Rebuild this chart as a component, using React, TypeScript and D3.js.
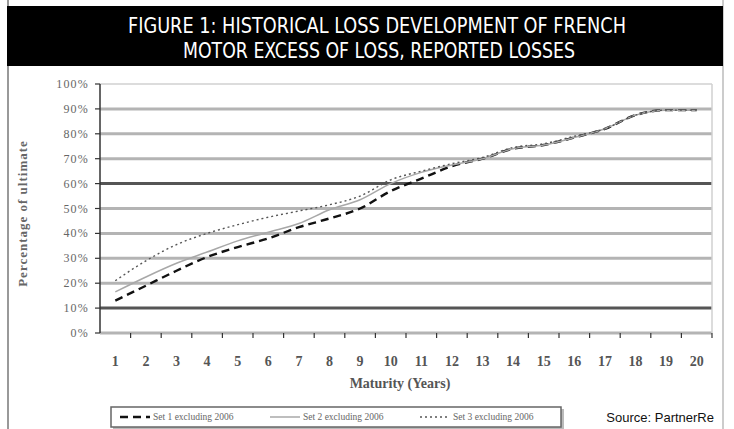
import * as d3 from "d3";
import * as React from "react";

const maturities = ["1", "2", "3", "4", "5", "6", "7", "8", "9", "10", "11", "12", "13", "14", "15", "16", "17", "18", "19", "20"];
const set1 = [13, 19, 25, 30.5, 34.5, 38, 42.5, 46, 50, 57, 62, 67, 70, 74, 75.5, 78.5, 82, 87.5, 89.5, 89.5];
const set2 = [16.5, 22.5, 28, 32.5, 37, 40.5, 44, 49.5, 53.5, 60, 64.5, 67.5, 70, 74, 75.5, 78.5, 82, 87.5, 89.5, 89.5];
const set3 = [21, 29, 35.5, 40, 43.5, 46.5, 49, 51.5, 55, 61.5, 65, 68, 70.5, 74.5, 76, 79, 82, 87.5, 89.5, 89.5];
const seriesNames = ["Set 1 excluding 2006", "Set 2 excluding 2006", "Set 3 excluding 2006"];
const yTicks = [0, 10, 20, 30, 40, 50, 60, 70, 80, 90, 100];
const darkGrid = [10, 60];

const styles = [
  { stroke: "#111", width: 2.4, dash: "8,5" },
  { stroke: "#a8a8a8", width: 1.5, dash: "" },
  { stroke: "#555", width: 1.4, dash: "2,3" },
];

export default function App() {
  const width = 734;
  const height = 429;
  const left = 100;
  const right = 712;
  const top = 84;
  const bottom = 333;

  const x = d3.scaleBand<string>().domain(maturities).range([left, right]).padding(0);
  const y = d3.scaleLinear().domain([0, 100]).range([bottom, top]);
  const cx = (d: string) => (x(d) ?? 0) + x.bandwidth() / 2;

  const line = d3
    .line<number>()
    .x((_, i) => cx(maturities[i]))
    .y((d) => y(d))
    .curve(d3.curveMonotoneX);

  const allSeries = [set1, set2, set3];
  const serif = "'Liberation Serif', 'DejaVu Serif', serif";
  const titleFont = "'DejaVu Sans Condensed', 'Liberation Sans Narrow', 'Open Sans', sans-serif";

  return (
    <svg width={width} height={height} style={{ position: "absolute", left: 0, top: 0, background: "#fff" }}>
      {/* frame */}
      <line x1={8} x2={8} y1={0} y2={height} stroke="#777" strokeWidth={1.5} />
      <line x1={723} x2={723} y1={0} y2={height} stroke="#999" strokeWidth={1} />
      {/* title */}
      <rect x={7} y={6} width={716} height={60} fill="#000" />
      <text x={377} y={33} fill="#fff" fontFamily={titleFont} fontSize={21} textAnchor="middle" textLength={498} lengthAdjust="spacingAndGlyphs">
        FIGURE 1: HISTORICAL LOSS DEVELOPMENT OF FRENCH
      </text>
      <text x={379} y={58} fill="#fff" fontFamily={titleFont} fontSize={21} textAnchor="middle" textLength={392} lengthAdjust="spacingAndGlyphs">
        MOTOR EXCESS OF LOSS, REPORTED LOSSES
      </text>

      {/* gridlines */}
      {yTicks.map((t) => (
        <line
          key={t}
          x1={left}
          x2={right}
          y1={y(t)}
          y2={y(t)}
          stroke={t === 100 ? "#dcdcdc" : darkGrid.includes(t) ? "#555" : "#b4b4b4"}
          strokeWidth={t === 100 ? 2 : 3}
        />
      ))}
      <line x1={right} x2={right} y1={top} y2={bottom} stroke="#d0d0d0" strokeWidth={1.5} />

      {/* y axis */}
      <line x1={left} x2={left} y1={top} y2={bottom} stroke="#333" strokeWidth={1.5} />
      {yTicks.map((t) => (
        <g key={t}>
          <line x1={left - 5} x2={left} y1={y(t)} y2={y(t)} stroke="#333" strokeWidth={1.2} />
          <text x={left - 11} y={y(t) + 4} textAnchor="end" fontFamily={serif} fontSize={12} fill="#666" letterSpacing={1.2}>
            {t}%
          </text>
        </g>
      ))}
      <text
        transform={`translate(27,${(top + bottom) / 2 + 5}) rotate(-90)`}
        textAnchor="middle"
        fontFamily={serif}
        fontSize={13}
        fontWeight="bold"
        fill="#666"
        letterSpacing={1}
      >
        Percentage of ultimate
      </text>

      {/* x axis */}
      {maturities.map((m) => (
        <g key={m}>
          <line x1={(x(m) ?? 0) + x.bandwidth()} x2={(x(m) ?? 0) + x.bandwidth()} y1={bottom} y2={bottom + 5} stroke="#333" strokeWidth={1.2} />
          <text x={cx(m)} y={366} textAnchor="middle" fontFamily={serif} fontSize={14} fontWeight="bold" fill="#555">
            {m}
          </text>
        </g>
      ))}
      <text x={400} y={388} textAnchor="middle" fontFamily={serif} fontSize={14} fontWeight="bold" fill="#555">
        Maturity (Years)
      </text>

      {/* series */}
      {allSeries.map((s, i) => (
        <path
          key={i}
          d={line(s) ?? ""}
          fill="none"
          stroke={styles[i].stroke}
          strokeWidth={styles[i].width}
          strokeDasharray={styles[i].dash || undefined}
        />
      ))}

      {/* legend */}
      <rect x={113} y={409} width={451} height={20} fill="#bbb" />
      <rect x={111} y={407} width={450} height={20} fill="#fff" stroke="#666" strokeWidth={1.5} />
      {seriesNames.map((n, i) => {
        const lx = 120 + i * 150;
        return (
          <g key={n}>
            <line x1={lx} x2={lx + 30} y1={417} y2={417} stroke={styles[i].stroke} strokeWidth={styles[i].width} strokeDasharray={styles[i].dash || undefined} />
            <text x={lx + 33} y={420} fontFamily={serif} fontSize={9.5} fill="#666">
              {n}
            </text>
          </g>
        );
      })}

      <text x={714} y={422} textAnchor="end" fontFamily="'Liberation Sans', Arial, sans-serif" fontSize={13} fill="#111">
        Source: PartnerRe
      </text>
    </svg>
  );
}
